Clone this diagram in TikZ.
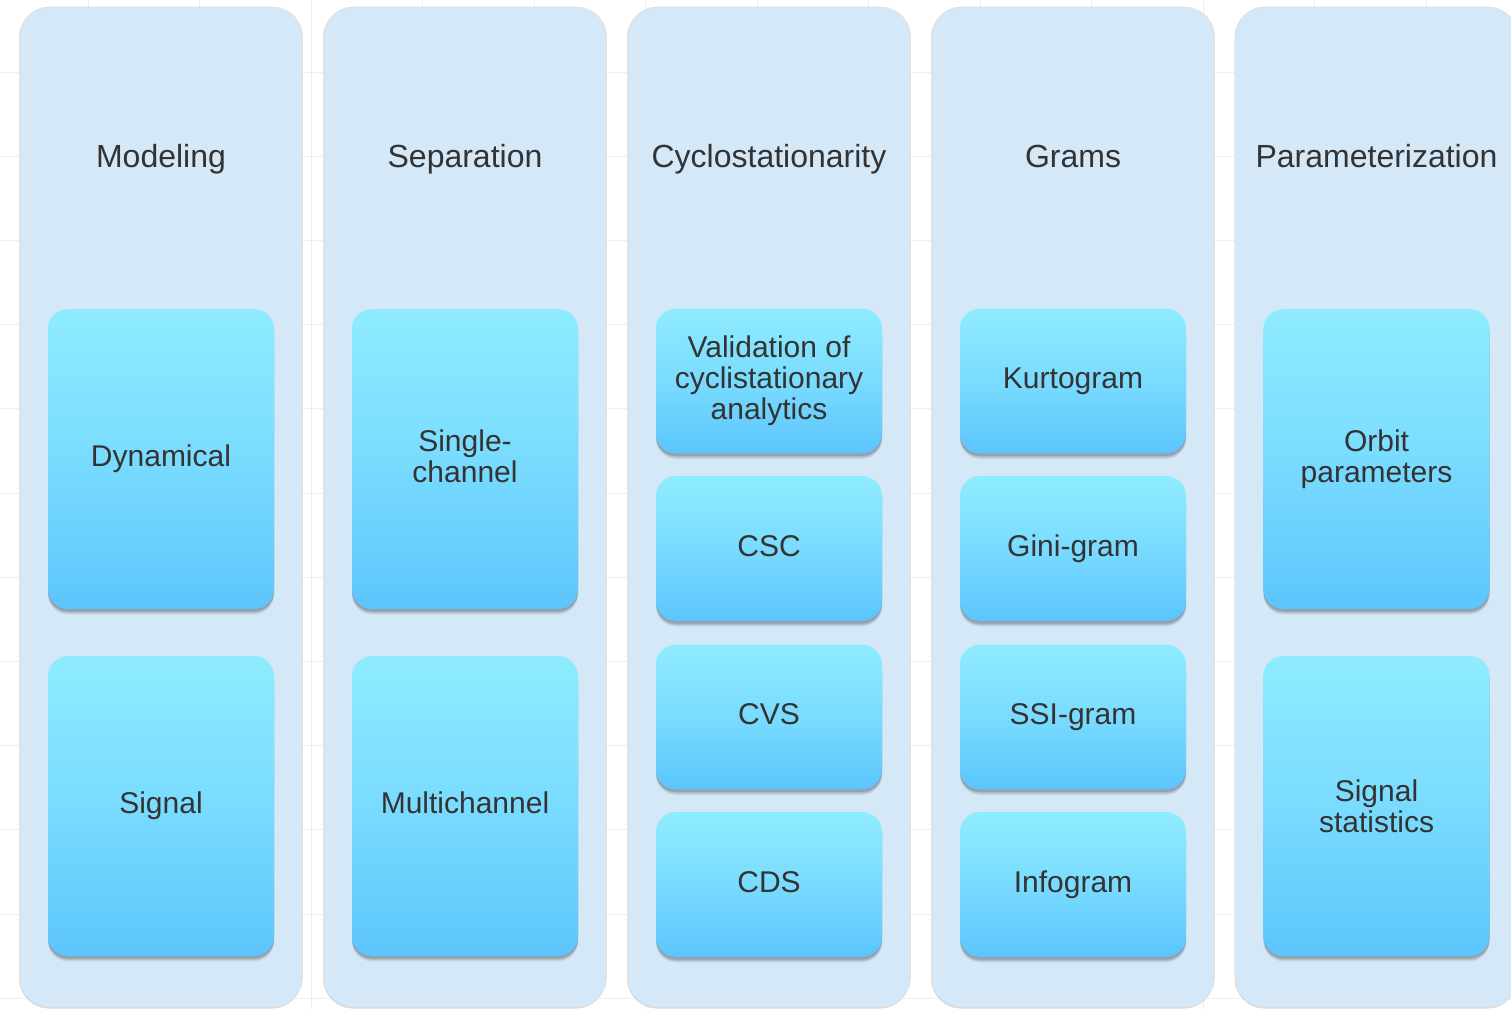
\documentclass[tikz,border=0pt]{standalone}
\usepackage{fontspec}
\setmainfont{Liberation Sans}
\usetikzlibrary{shadows}
\definecolor{colfill}{HTML}{D5E8F7}
\definecolor{boxtop}{HTML}{8FECFF}
\definecolor{boxmid}{HTML}{79DBFE}
\definecolor{boxbot}{HTML}{5CC5FC}
\definecolor{txt}{HTML}{333333}
\definecolor{gridc}{HTML}{EEEEEE}
\tikzset{
  colbox/.style={draw=black!12, line width=0.6pt, fill=colfill, rounded corners=30pt,
    minimum width=283pt, minimum height=1000pt, inner sep=0pt,
    drop shadow={shadow xshift=-0.5pt, shadow yshift=-1.5pt, opacity=0.15, fill=black}},
  coltitle/.style={font=\fontsize{32}{34}\selectfont, text=txt, inner sep=0pt,
    text height=23pt, text depth=7pt},
  itembox/.style={rounded corners=20pt, minimum width=226pt, inner sep=2pt,
    top color=boxtop, bottom color=boxbot, middle color=boxmid,
    text=txt, align=center, font=\fontsize{30}{31}\selectfont,
    drop shadow={shadow xshift=0pt, shadow yshift=-5.5pt, opacity=0.07, fill=black},
    drop shadow={shadow xshift=0pt, shadow yshift=-4pt, opacity=0.12, fill=black},
    drop shadow={shadow xshift=0pt, shadow yshift=-2.5pt, opacity=0.14, fill=black}},
  onebox/.style={text height=21.5pt, text depth=6.5pt},
  tallbox/.style={itembox, minimum height=300pt},
  shortbox/.style={itembox, minimum height=145pt}
}
\begin{document}
\begin{tikzpicture}[x=1pt,y=-1pt]
\useasboundingbox (0,0) rectangle (1511,1009);
\clip (0,0) rectangle (1511,1009);
\fill[white] (0,0) rectangle (1511,1009);
\foreach \i in {0,...,12} \draw[gridc, line width=1pt] ({88+111.5*\i},0) -- ({88+111.5*\i},1009);
\foreach \j in {0,...,11} \draw[gridc, line width=1pt] (0,{72+84.2*\j}) -- (1511,{72+84.2*\j});

% columns
\node[colbox] (col1) at (161,507) {};
\node[colbox] (col2) at (465,507) {};
\node[colbox] (col3) at (769,507) {};
\node[colbox] (col4) at (1073,507) {};
\node[colbox] (col5) at (1376.5,507) {};

% titles
\node[coltitle] (t1) at (161,159) {Modeling};
\node[coltitle] (t2) at (465,159) {Separation};
\node[coltitle] (t3) at (769,159) {Cyclostationarity};
\node[coltitle] (t4) at (1073,159) {Grams};
\node[coltitle] (t5) at (1376.5,159) {Parameterization};

% column 1
\node[tallbox, onebox] (dyn) at (161,459) {Dynamical};
\node[tallbox, onebox] (sig) at (161,806) {Signal};
% column 2
\node[tallbox, text depth=6pt] (single) at (465,459) {Single-\\channel};
\node[tallbox, onebox] (multi) at (465,806) {Multichannel};
% column 3
\node[shortbox] (valid) at (769,381) {Validation of\\cyclistationary\\analytics};
\node[shortbox, onebox] (csc) at (769,548.5) {CSC};
\node[shortbox, onebox] (cvs) at (769,717) {CVS};
\node[shortbox, onebox] (cds) at (769,884.5) {CDS};
% column 4
\node[shortbox, onebox] (kurt) at (1073,381) {Kurtogram};
\node[shortbox, onebox] (gini) at (1073,548.5) {Gini-gram};
\node[shortbox, onebox] (ssi) at (1073,717) {SSI-gram};
\node[shortbox, onebox] (info) at (1073,884.5) {Infogram};
% column 5
\node[tallbox] (orbit) at (1376.5,459) {Orbit\\parameters};
\node[tallbox] (stats) at (1376.5,806) {Signal\\statistics};
\end{tikzpicture}
\end{document}
